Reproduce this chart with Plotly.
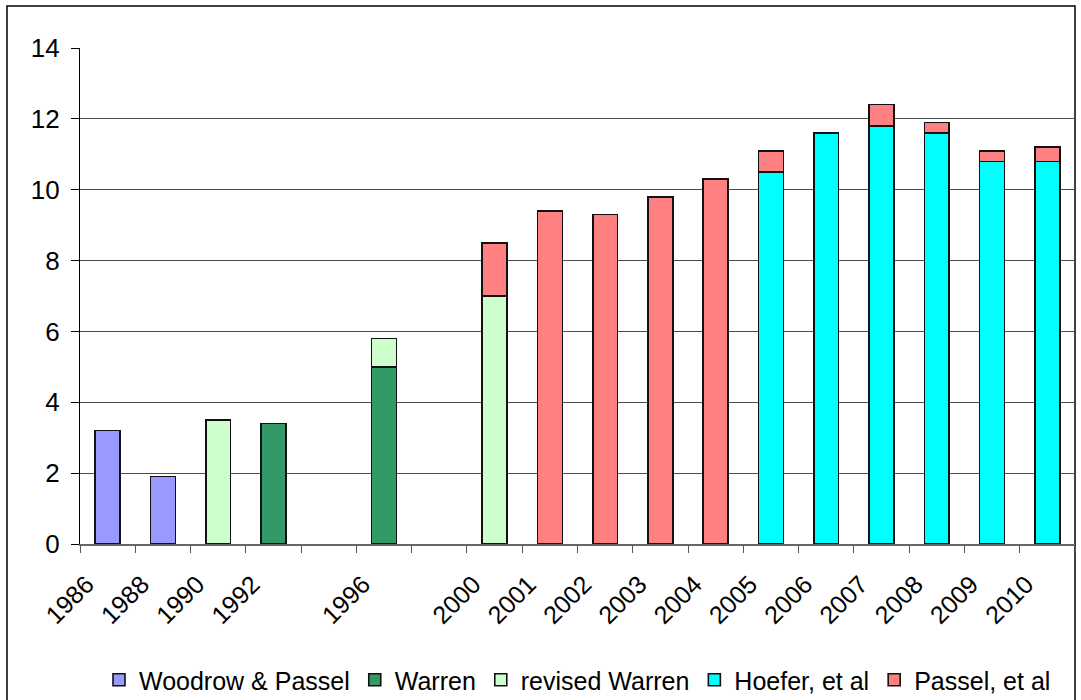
import plotly.graph_objects as go

categories = ["1986", "1988", "1990", "1992", " ", "1996", "  ", "2000", "2001", "2002",
              "2003", "2004", "2005", "2006", "2007", "2008", "2009", "2010"]

woodrow_passel = [3.2, 1.9, None, None, None, None, None, None, None, None,
                  None, None, None, None, None, None, None, None]
warren = [None, None, None, 3.4, None, 5.0, None, None, None, None,
          None, None, None, None, None, None, None, None]
revised_warren = [None, None, 3.5, None, None, 0.8, None, 7.0, None, None,
                  None, None, None, None, None, None, None, None]
hoefer = [None, None, None, None, None, None, None, None, None, None,
          None, None, 10.5, 11.6, 11.8, 11.6, 10.8, 10.8]
passel = [None, None, None, None, None, None, None, 1.5, 9.4, 9.3,
          9.8, 10.3, 0.6, None, 0.6, 0.3, 0.3, 0.4]

series = [
    ("Woodrow & Passel", woodrow_passel, "#9999FF"),
    ("Warren", warren, "#339966"),
    ("revised Warren", revised_warren, "#CCFFCC"),
    ("Hoefer, et al", hoefer, "#00FFFF"),
    ("Passel, et al", passel, "#FF8080"),
]

FONT = "Liberation Sans, Arial, sans-serif"

fig = go.Figure()
for name, vals, color in series:
    fig.add_trace(go.Bar(
        x=categories, y=vals, name=name,
        marker=dict(color=color, line=dict(color="#111111", width=1.6)),
    ))

fig.update_layout(
    width=1081, height=700,
    margin=dict(l=80, r=6, t=48, b=156),
    barmode="stack", bargap=0.55,
    paper_bgcolor="white", plot_bgcolor="white",
    font=dict(family=FONT, size=26, color="black"),
    showlegend=True,
    legend=dict(orientation="h", x=0.5, xanchor="center", xref="paper",
                y=1 - 657 / 700, yanchor="top", yref="container",
                font=dict(family=FONT, size=25, color="black"),
                itemwidth=30, traceorder="normal", tracegroupgap=0,
                bgcolor="rgba(0,0,0,0)"),
    xaxis=dict(type="category", categoryorder="array", categoryarray=categories,
               tickson="boundaries", ticks="outside", ticklen=7, tickcolor="#555555",
               showline=True, linecolor="#666666", linewidth=1.5,
               showgrid=False, tickangle=-45, tickfont=dict(size=25),
               ticklabelstandoff=14, ticklabelshift=-21, automargin=False,
               range=[-0.5, len(categories) - 0.5]),
    yaxis=dict(range=[0, 14], dtick=2, tick0=0, ticks="outside", ticklen=8,
               tickcolor="black", showline=True, linecolor="black", linewidth=1.2,
               showgrid=True, gridcolor="#4d4d4d", gridwidth=1, automargin=False,
               zeroline=False, tickfont=dict(size=26), ticklabelstandoff=6),
    shapes=[dict(type="rect", xref="paper", yref="paper",
                 x0=(7 - 80) / 995, x1=1.0, y0=-(720 - 544) / 496, y1=(544 - 6) / 496,
                 line=dict(color="black", width=1.5), fillcolor="rgba(0,0,0,0)",
                 layer="below")],
)

fig.write_html("out.html", config={"displayModeBar": False},
               post_script="document.body.style.margin='0';")
